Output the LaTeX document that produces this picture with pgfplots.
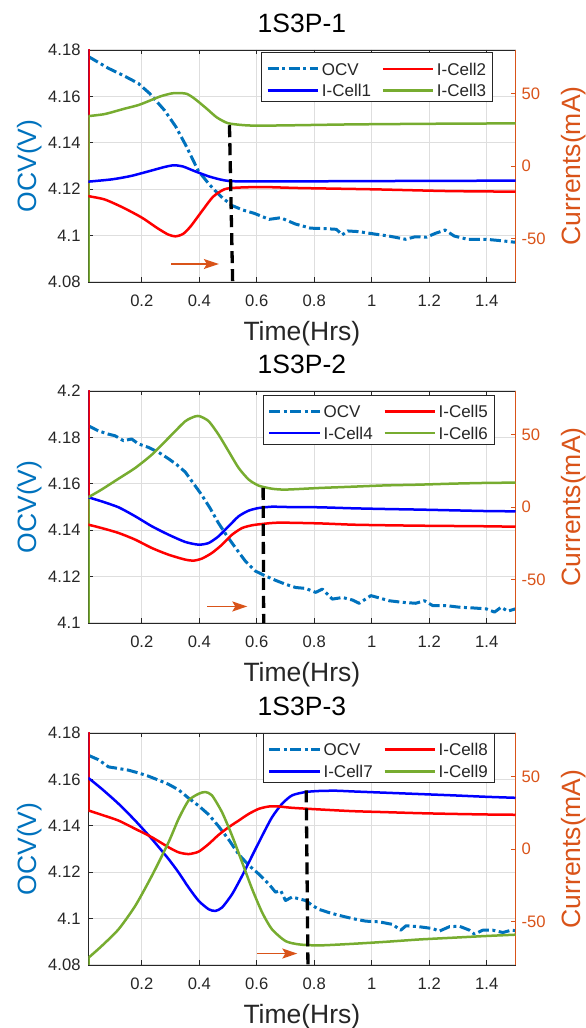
\documentclass[border=0pt]{standalone}
\usepackage{pgfplots}
\pgfplotsset{compat=1.18}
\usepackage{fontspec}
\setmainfont{Liberation Sans}
\usetikzlibrary{arrows.meta}

\definecolor{ocvc}{RGB}{0,114,189}
\definecolor{orc}{RGB}{217,83,25}
\definecolor{gc}{RGB}{119,172,48}
\definecolor{tk}{RGB}{38,38,38}
\definecolor{rc}{RGB}{255,0,0}
\definecolor{bc}{RGB}{0,0,255}

\newcommand{\tfont}{\fontsize{16.6}{18}\selectfont}
\newcommand{\lfont}{\fontsize{26.5}{30}\selectfont}
\newcommand{\gfont}{\fontsize{17}{20}\selectfont}

\pgfplotsset{
 base/.style={scale only axis, width=427.2pt, height=232pt, xmin=0.0139, xmax=1.5,
   anchor=south west, /pgf/number format/assume math mode=true},
 leftax/.style={base, axis line style={line width=0.9pt, draw=tk},
   xtick={0.2,0.4,0.6,0.8,1,1.2,1.4}, xticklabels={0.2,0.4,0.6,0.8,1,1.2,1.4},
   xtick pos=both, ytick pos=left, tick align=inside, major tick length=4.5pt,
   tick style={line width=0.9pt, draw=tk},
   grid=major, major grid style={line width=1.1pt, draw=black!13},
   xticklabel style={font=\tfont, text=tk, anchor=base, yshift=-24.7pt, inner sep=0pt},
   yticklabel style={font=\tfont, text=tk, anchor=east, inner sep=0pt, xshift=-7.6pt},
   xlabel={Time(Hrs)}, xlabel style={at={(0.5,-0.2543)}, anchor=base, font=\lfont, text=tk},
   ylabel={OCV(V)}, ylabel style={at={(-0.1208,0.5)}, anchor=base, font=\lfont, text=ocvc},
   title style={at={(0.5,1.0504)}, anchor=base, font=\lfont, text=black}},
 rightax/.style={base, axis y line*=right, axis x line=none, ymin=-80, ymax=80,
   ytick={-50,0,50}, yticklabels={-50,0,50}, tick align=inside, major tick length=4.5pt,
   y axis line style={line width=0.9pt, draw=orc}, ytick style={line width=0.9pt, draw=orc},
   yticklabel style={font=\tfont, text=orc, anchor=west, inner sep=0pt, xshift=6pt},
   ylabel={Currents(mA)}, ylabel style={at={(1.1533,0.5)}, anchor=base, font=\lfont, text=orc},
   legend columns=2, legend cell align=left,
   legend image code/.code={\draw[##1] (0pt,-2.5pt) -- (50.6pt,-2.5pt);},
   legend style={draw=tk, line width=0.8pt, fill=white, font=\gfont, text=tk,
     inner xsep=4.6pt, inner ysep=2.85pt,
     nodes={inner sep=2.25pt, text height=17.2pt, text depth=0pt},
     /tikz/every even column/.append style={column sep=8.3pt}}},
 ocvline/.style={ocvc, line width=3pt, line join=round, dash pattern=on 11pt off 3.5pt on 3pt off 3.5pt},
 cur/.style={line width=2.5pt, line join=round},
 vmark/.style={black, line width=3.3pt, dash pattern=on 12pt off 6pt},
 arr/.style={orc, line width=1.3pt, -{Stealth[length=15pt,width=10pt,inset=3pt]}},
}

\begin{document}
\begin{tikzpicture}
\useasboundingbox (0,0) rectangle (586pt,1028pt);

%%%%%%%%%%%%%%%% Plot 1
\begin{axis}[leftax, at={(88.3pt,746pt)}, ymin=4.08, ymax=4.18,
  ytick={4.08,4.1,4.12,4.14,4.16,4.18}, yticklabels={4.08,4.1,4.12,4.14,4.16,4.18},
  title={1S3P-1}]
\addplot[ocvline] coordinates {(0.014,4.1772) (0.084,4.1721) (0.136,4.169) (0.188,4.1656) (0.227,4.1613) (0.279,4.154) (0.318,4.147) (0.357,4.138) (0.396,4.128) (0.435,4.122) (0.474,4.117) (0.513,4.113) (0.552,4.111) (0.591,4.1096) (0.643,4.107) (0.683,4.1077) (0.734,4.105) (0.787,4.1032) (0.838,4.103) (0.877,4.1027) (0.897,4.1003) (0.916,4.102) (0.955,4.1017) (1.008,4.1007) (1.06,4.0998) (1.118,4.0984) (1.151,4.0995) (1.19,4.0993) (1.222,4.101) (1.255,4.1024) (1.287,4.0998) (1.333,4.0984) (1.398,4.0984) (1.45,4.0978) (1.5,4.0971)};
\end{axis}
\begin{axis}[rightax, at={(88.3pt,746pt)}, legend style={at={(0.948,0.990)}, anchor=north east}]
\addlegendimage{ocvline}\addlegendentry{OCV}
\addlegendimage{rc, line width=2.5pt}\addlegendentry{I-Cell2}
\addlegendimage{bc, line width=2.5pt}\addlegendentry{I-Cell1}
\addlegendimage{gc, line width=2.5pt}\addlegendentry{I-Cell3}
\addplot[cur, bc, forget plot] coordinates {(0.014,85) (0.014,-10.8)};
\addplot[cur, rc, forget plot] coordinates {(0.014,85) (0.014,-20.8)};
\addplot[cur, gc, forget plot] coordinates {(0.014,-85) (0.014,34.4)};
\addplot[cur, bc, smooth, tension=0.4, forget plot] coordinates {(0.014,-10.8) (0.097,-9.2) (0.162,-6.9) (0.227,-3.5) (0.279,-0.7) (0.312,0.5) (0.344,-0.4) (0.383,-3.5) (0.435,-7.3) (0.487,-9.9) (0.539,-10.6) (0.747,-10.6) (1.008,-10.4) (1.5,-10.1)};
\addplot[cur, rc, smooth, tension=0.4, forget plot] coordinates {(0.014,-20.8) (0.071,-23.1) (0.136,-28.8) (0.201,-35.7) (0.253,-42.7) (0.292,-47.3) (0.318,-48.5) (0.344,-46.8) (0.37,-41.6) (0.409,-31.2) (0.448,-21.2) (0.487,-16.1) (0.526,-15) (0.618,-14.5) (0.747,-15.2) (1.008,-16.1) (1.268,-17.3) (1.5,-17.7)};
\addplot[cur, gc, smooth, tension=0.4, forget plot] coordinates {(0.014,34.4) (0.071,35.8) (0.136,39.3) (0.188,42) (0.227,45) (0.266,48.1) (0.305,50.1) (0.331,50.3) (0.357,49.7) (0.383,46.5) (0.423,40) (0.461,33.5) (0.50,29.5) (0.552,28.2) (0.6,27.8) (0.7,28) (0.8,28.3) (0.9,28.6) (1.0,28.8) (1.2,29.1) (1.4,29.3) (1.5,29.3)};
\addplot[vmark, forget plot] coordinates {(0.505,28.1) (0.516,-80)};
\addplot[arr, forget plot] coordinates {(0.302,-67.6) (0.468,-67.6)};
\end{axis}

%%%%%%%%%%%%%%%% Plot 2
\begin{axis}[leftax, at={(88.3pt,405pt)}, ymin=4.1, ymax=4.2,
  ytick={4.1,4.12,4.14,4.16,4.18,4.2}, yticklabels={4.1,4.12,4.14,4.16,4.18,4.2},
  title={1S3P-2}]
\addplot[ocvline] coordinates {(0.014,4.185) (0.049,4.1828) (0.084,4.1814) (0.107,4.1807) (0.136,4.1786) (0.165,4.1793) (0.188,4.1772) (0.223,4.1757) (0.258,4.1736) (0.293,4.1708) (0.322,4.1682) (0.351,4.1651) (0.380,4.1601) (0.409,4.1551) (0.438,4.1494) (0.467,4.1430) (0.497,4.1374) (0.526,4.1324) (0.56,4.1267) (0.595,4.1224) (0.63,4.1203) (0.665,4.1184) (0.7,4.1167) (0.735,4.1153) (0.77,4.1149) (0.805,4.1132) (0.828,4.1146) (0.863,4.1103) (0.898,4.1110) (0.933,4.1099) (0.956,4.1085) (0.997,4.1118) (1.026,4.1108) (1.06,4.1096) (1.107,4.1089) (1.153,4.1085) (1.183,4.1096) (1.212,4.1075) (1.258,4.1075) (1.305,4.1068) (1.351,4.1065) (1.398,4.1061) (1.427,4.1047) (1.45,4.1068) (1.473,4.1051) (1.5,4.1061)};
\end{axis}
\begin{axis}[rightax, at={(88.3pt,405pt)}, legend style={at={(0.952,0.983)}, anchor=north east}]
\addlegendimage{ocvline}\addlegendentry{OCV}
\addlegendimage{rc, line width=2.5pt}\addlegendentry{I-Cell5}
\addlegendimage{bc, line width=2.5pt}\addlegendentry{I-Cell4}
\addlegendimage{gc, line width=2.5pt}\addlegendentry{I-Cell6}
\addplot[cur, bc, forget plot] coordinates {(0.014,85) (0.014,6.7)};
\addplot[cur, rc, forget plot] coordinates {(0.014,85) (0.014,-12.2)};
\addplot[cur, gc, forget plot] coordinates {(0.014,-85) (0.014,6.7)};
\addplot[cur, bc, smooth, tension=0.4, forget plot] coordinates {(0.014,6.7) (0.06,3.9) (0.119,-0.2) (0.177,-6.4) (0.235,-13.3) (0.293,-19.1) (0.351,-24.1) (0.398,-26) (0.433,-24.8) (0.467,-20.2) (0.502,-13.3) (0.537,-6.4) (0.572,-2.5) (0.607,-0.7) (0.653,0.2) (0.7,0) (0.816,-0.2) (0.933,-0.9) (1.049,-1.4) (1.165,-1.8) (1.281,-2.3) (1.398,-2.8) (1.5,-3.0)};
\addplot[cur, rc, smooth, tension=0.4, forget plot] coordinates {(0.014,-12.2) (0.06,-14.5) (0.119,-17.9) (0.177,-22.5) (0.235,-28.3) (0.293,-32.9) (0.351,-36.3) (0.38,-37) (0.409,-35.6) (0.444,-31.7) (0.479,-26) (0.514,-19.1) (0.549,-14.5) (0.584,-12.6) (0.619,-11.7) (0.677,-10.8) (0.816,-11.3) (0.933,-12.2) (1.049,-12.6) (1.165,-12.9) (1.281,-13.1) (1.398,-13.3) (1.5,-13.6)};
\addplot[cur, gc, smooth, tension=0.4, forget plot] coordinates {(0.014,6.7) (0.06,12) (0.119,19.5) (0.177,26.9) (0.235,36.1) (0.293,47.6) (0.351,59.1) (0.386,62.5) (0.403,62.5) (0.433,59.1) (0.467,49.9) (0.502,38.4) (0.537,26.9) (0.572,18.9) (0.607,14.7) (0.653,12.6) (0.7,12.0) (0.816,13.1) (0.933,14.0) (1.049,14.9) (1.165,15.4) (1.281,16.1) (1.398,16.6) (1.5,16.8)};
\addplot[vmark, forget plot] coordinates {(0.622,13.1) (0.624,-80)};
\addplot[arr, forget plot] coordinates {(0.427,-68.6) (0.567,-68.6)};
\end{axis}

%%%%%%%%%%%%%%%% Plot 3
\begin{axis}[leftax, at={(88.3pt,63pt)}, ymin=4.08, ymax=4.18,
  ytick={4.08,4.1,4.12,4.14,4.16,4.18}, yticklabels={4.08,4.1,4.12,4.14,4.16,4.18},
  title={1S3P-3}]
\addplot[ocvline] coordinates {(0.014,4.1704) (0.049,4.1685) (0.084,4.1654) (0.119,4.1647) (0.153,4.164) (0.188,4.1628) (0.223,4.1614) (0.258,4.1597) (0.293,4.1579) (0.328,4.1555) (0.363,4.1519) (0.398,4.1486) (0.433,4.1448) (0.467,4.1398) (0.502,4.1341) (0.537,4.1277) (0.572,4.1230) (0.607,4.1192) (0.642,4.1149) (0.665,4.1114) (0.683,4.1121) (0.7,4.1078) (0.723,4.1093) (0.747,4.1085) (0.77,4.1078) (0.793,4.1057) (0.816,4.104) (0.851,4.1026) (0.886,4.1014) (0.933,4.10) (0.979,4.0989) (1.026,4.0986) (1.072,4.0975) (1.101,4.0950) (1.119,4.0969) (1.165,4.0965) (1.212,4.0957) (1.235,4.0946) (1.27,4.0965) (1.305,4.0967) (1.34,4.095) (1.357,4.0933) (1.386,4.095) (1.421,4.095) (1.456,4.094) (1.485,4.095) (1.5,4.0948)};
\end{axis}
\begin{axis}[rightax, at={(88.3pt,63pt)}, legend style={at={(0.952,1.0)}, anchor=north east}]
\addlegendimage{ocvline}\addlegendentry{OCV}
\addlegendimage{rc, line width=2.5pt}\addlegendentry{I-Cell8}
\addlegendimage{bc, line width=2.5pt}\addlegendentry{I-Cell7}
\addlegendimage{gc, line width=2.5pt}\addlegendentry{I-Cell9}
\addplot[cur, bc, forget plot] coordinates {(0.014,85) (0.014,49.0)};
\addplot[cur, rc, forget plot] coordinates {(0.014,85) (0.014,26.6)};
\addplot[cur, gc, forget plot] coordinates {(0.014,-85) (0.014,-75.1)};
\addplot[cur, bc, smooth, tension=0.4, forget plot] coordinates {(0.014,49.0) (0.06,41.6) (0.119,31.2) (0.177,19.6) (0.235,6.9) (0.293,-6.9) (0.328,-16.2) (0.363,-26.6) (0.398,-35.8) (0.433,-41.6) (0.456,-42.7) (0.479,-40.4) (0.514,-31.2) (0.549,-18.5) (0.584,-4.6) (0.619,9.2) (0.653,21.9) (0.688,31.2) (0.723,37) (0.77,39.3) (0.816,40) (0.874,40.2) (0.933,39.7) (1.049,38.8) (1.165,37.9) (1.281,37) (1.398,36) (1.5,35.3)};
\addplot[cur, rc, smooth, tension=0.4, forget plot] coordinates {(0.014,26.6) (0.06,23.6) (0.119,19.6) (0.177,13.9) (0.235,8.1) (0.293,1.2) (0.328,-2.3) (0.363,-3.5) (0.398,-1.8) (0.433,3.5) (0.467,9.7) (0.502,15) (0.537,19.6) (0.572,24.2) (0.607,27.7) (0.642,29.3) (0.677,29.3) (0.723,28.4) (0.816,27.3) (0.933,26.1) (1.049,25.4) (1.165,24.7) (1.281,24.2) (1.398,23.8) (1.5,23.6)};
\addplot[cur, gc, smooth, tension=0.4, forget plot] coordinates {(0.014,-75.1) (0.06,-67) (0.119,-55.4) (0.177,-39.3) (0.235,-18.5) (0.293,4.6) (0.328,20.8) (0.363,33.5) (0.398,38.1) (0.421,39.3) (0.444,37) (0.479,25.4) (0.514,9.2) (0.549,-9.2) (0.584,-27.7) (0.619,-43.9) (0.653,-55.4) (0.7,-63.5) (0.747,-65.8) (0.816,-66.5) (0.933,-65.4) (1.049,-64) (1.165,-62.4) (1.281,-61.2) (1.398,-60) (1.5,-59.1)};
\addplot[vmark, forget plot] coordinates {(0.772,40.4) (0.778,-80)};
\addplot[arr, forget plot] coordinates {(0.601,-72.1) (0.741,-72.1)};
\end{axis}
\end{tikzpicture}
\end{document}
